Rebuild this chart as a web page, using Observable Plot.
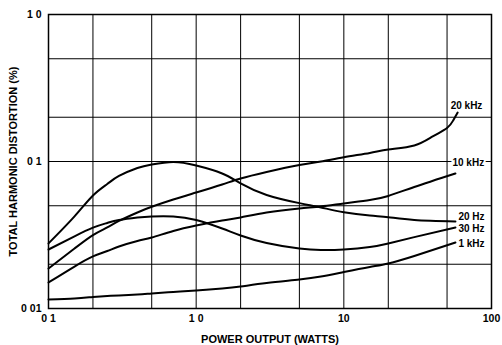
<!DOCTYPE html>
<html>
<head>
<meta charset="utf-8">
<script src="https://cdn.jsdelivr.net/npm/d3@7"></script>
<script src="https://cdn.jsdelivr.net/npm/@observablehq/plot@0.6"></script>
<style>
  html, body { margin: 0; padding: 0; background: #fff; }
</style>
</head>
<body>
<div id="chart"></div>
<script>
// Power output (W) sample points shared by most curves
const power = [0.1, 0.15, 0.2, 0.25, 0.3, 0.4, 0.5, 0.7, 1, 1.5, 2, 3, 5, 7, 10, 15, 20, 30, 57];
// THD (%) for each test frequency
const thd20Hz = [0.0277, 0.0423, 0.0587, 0.0703, 0.0797, 0.0903, 0.0954, 0.0992, 0.0939, 0.0829, 0.0709, 0.0592, 0.0521, 0.0487, 0.0452, 0.0429, 0.0418, 0.04, 0.0391];
const thd30Hz = [0.0252, 0.031, 0.0355, 0.0382, 0.04, 0.0416, 0.0423, 0.0423, 0.04, 0.035, 0.0314, 0.0279, 0.0256, 0.025, 0.0252, 0.0262, 0.0277, 0.0306, 0.0356];
const thd10kHz = [0.01503, 0.0193, 0.0226, 0.0246, 0.0264, 0.0288, 0.0304, 0.0337, 0.0367, 0.0397, 0.0416, 0.045, 0.0479, 0.0494, 0.0518, 0.0547, 0.0583, 0.0671, 0.0829];
const thd1kHz = [0.01151, 0.0117, 0.01197, 0.01216, 0.01226, 0.01245, 0.01265, 0.01295, 0.01326, 0.01368, 0.01411, 0.01491, 0.01575, 0.01651, 0.01771, 0.01916, 0.02024, 0.02276, 0.02812];
// The 20 kHz curve rises sharply at the top end, so it has its own sample points
const power20kHz = [0.1, 0.15, 0.2, 0.25, 0.3, 0.4, 0.5, 0.7, 1, 1.5, 2, 3, 5, 7, 10, 15, 20, 30, 40, 50, 55, 59];
const thd20kHz = [0.0187, 0.0256, 0.0316, 0.0356, 0.0394, 0.045, 0.0492, 0.0551, 0.0615, 0.0698, 0.0766, 0.0848, 0.0947, 0.1, 0.107, 0.1142, 0.1206, 0.1285, 0.148, 0.169, 0.19, 0.2154];

const seriesNames = ["20 kHz", "10 kHz", "20 Hz", "30 Hz", "1 kHz"];

// Axis ticks and grid
const xTicks = [0.1, 1, 10, 100];
const xTickLabels = ["0 1", "1 0", "10", "100"];
const yTicks = [0.01, 0.1, 1];
const yTickLabels = ["0 01", "0 1", "1 0"];
const xGrid = [0.2, 0.5, 1, 2, 5, 10, 20, 50];
const yGrid = [0.02, 0.05, 0.1, 0.2, 0.5];

const xTitle = "POWER OUTPUT (WATTS)";
const yTitle = "TOTAL HARMONIC DISTORTION (%)";

const seriesValues = {
  "20 kHz": [power20kHz, thd20kHz],
  "10 kHz": [power, thd10kHz],
  "20 Hz": [power, thd20Hz],
  "30 Hz": [power, thd30Hz],
  "1 kHz": [power, thd1kHz]
};

const rows = seriesNames.flatMap(name => {
  const [xs, ys] = seriesValues[name];
  return xs.map((w, i) => ({series: name, watts: w, thd: ys[i]}));
});

// Label placement relative to the end of each curve
const labelOffset = {
  "20 kHz": {dx: -7, dy: -7, halo: false},
  "10 kHz": {dx: -3, dy: -11, halo: true},
  "20 Hz": {dx: 3, dy: -4.5, halo: false},
  "30 Hz": {dx: 3, dy: 1, halo: false},
  "1 kHz": {dx: 3, dy: 1, halo: false}
};

const endLabels = seriesNames.map(name => {
  const last = rows.filter(r => r.series === name).at(-1);
  const o = labelOffset[name];
  return Plot.text([last], {
    x: "watts", y: "thd", text: "series",
    dx: o.dx, dy: o.dy, textAnchor: "start",
    fill: "black", fontSize: 10,
    stroke: o.halo ? "white" : "none", strokeWidth: 4
  });
});

const xLabel = new Map(xTicks.map((t, i) => [t, xTickLabels[i]]));
const yLabel = new Map(yTicks.map((t, i) => [t, yTickLabels[i]]));

const chart = Plot.plot({
  width: 502,
  height: 345,
  marginLeft: 48,
  marginRight: 11,
  marginTop: 14,
  marginBottom: 37,
  style: {fontFamily: "'Liberation Sans', Arial, sans-serif", fontSize: "10.5px", fontWeight: "bold", background: "white", color: "black"},
  x: {type: "log", domain: [0.1, 100]},
  y: {type: "log", domain: [0.01, 1]},
  marks: [
    Plot.ruleX(xGrid, {stroke: "black", strokeWidth: 1}),
    Plot.ruleY(yGrid, {stroke: "black", strokeWidth: 1}),
    Plot.line(rows, {x: "watts", y: "thd", z: "series", curve: "natural", stroke: "black", strokeWidth: 2}),
    ...endLabels,
    Plot.frame({stroke: "black", strokeWidth: 1.5}),
    Plot.axisX(xTicks, {tickSize: 0, tickPadding: 6, tickFormat: d => xLabel.get(d), label: null, fontSize: 10.5}),
    Plot.axisY(yTicks, {tickSize: 0, tickPadding: 7, tickFormat: d => yLabel.get(d), label: null, fontSize: 10.5}),
    Plot.text([xTitle], {frameAnchor: "bottom", dy: 31, lineAnchor: "middle", textAnchor: "middle", fontSize: 11, text: d => d}),
    Plot.text([yTitle], {frameAnchor: "left", dx: -35, rotate: -90, textAnchor: "middle", lineAnchor: "middle", fontSize: 11, text: d => d})
  ]
});

document.getElementById("chart").append(chart);
</script>
</body>
</html>
